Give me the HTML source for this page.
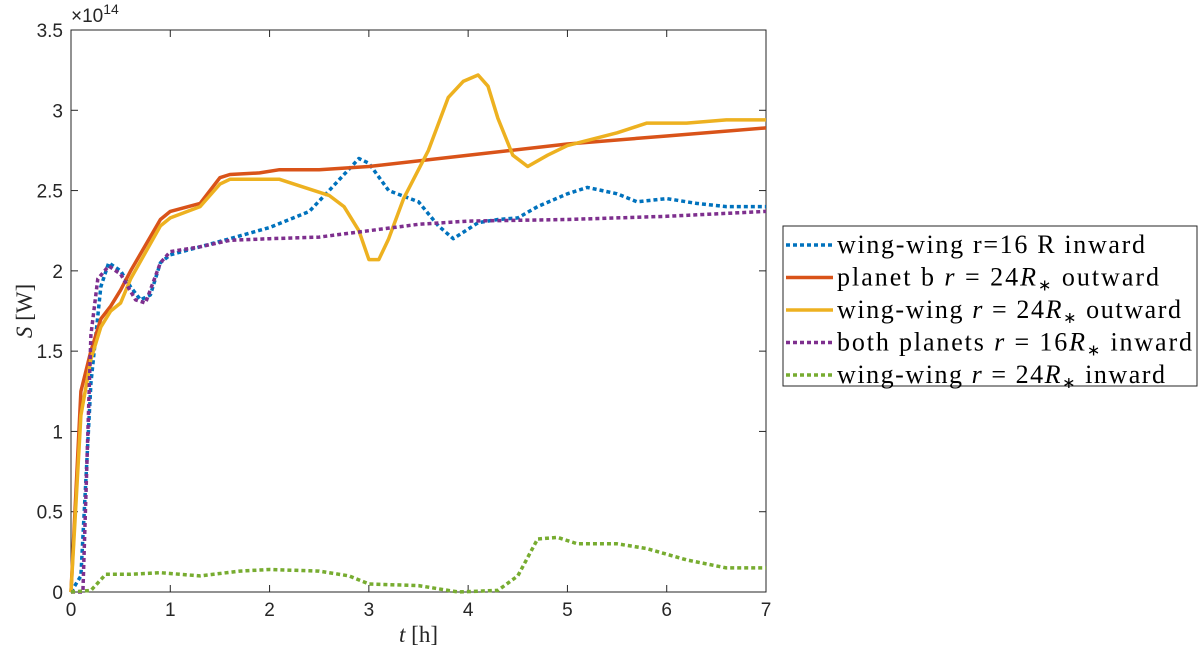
<!DOCTYPE html>
<html><head><meta charset="utf-8"><style>
body{margin:0;background:#fff;}
svg{display:block;font-family:"Liberation Serif",serif;}
</style></head><body>
<svg id="chart" width="1200" height="656">
<g id="plot"></g>
</svg>
<script>
const series1T=[0,0.1,0.2,0.3,0.38,0.5,0.6,0.7,0.8,0.9,1.0,1.3,1.6,2,2.4,2.6,2.9,3.0,3.2,3.5,3.7,3.85,4.1,4.3,4.5,4.7,5.0,5.2,5.5,5.7,6.0,6.3,6.6,7];
const series1V=[0,0.1,1.3,1.9,2.05,2.0,1.9,1.82,1.85,2.05,2.1,2.15,2.2,2.27,2.37,2.5,2.7,2.67,2.5,2.43,2.28,2.2,2.3,2.32,2.33,2.4,2.48,2.52,2.48,2.43,2.45,2.42,2.4,2.4];
const series2T=[0,0.1,0.2,0.3,0.4,0.5,0.6,0.9,1.0,1.3,1.5,1.6,1.9,2.1,2.5,3,4,5,6,7];
const series2V=[0,1.25,1.5,1.7,1.78,1.88,2.0,2.32,2.37,2.42,2.58,2.6,2.61,2.63,2.63,2.65,2.72,2.79,2.84,2.89];
const series3T=[0,0.1,0.2,0.3,0.4,0.5,0.6,0.9,1.0,1.3,1.5,1.6,1.9,2.1,2.3,2.6,2.75,2.9,3.0,3.1,3.2,3.35,3.6,3.8,3.95,4.1,4.2,4.3,4.45,4.6,4.8,5,5.5,5.8,6.2,6.6,7];
const series3V=[0,1.1,1.45,1.65,1.75,1.8,1.95,2.28,2.33,2.4,2.54,2.57,2.57,2.57,2.53,2.47,2.4,2.25,2.07,2.07,2.2,2.45,2.75,3.08,3.18,3.22,3.15,2.95,2.72,2.65,2.72,2.78,2.86,2.92,2.92,2.94,2.94];
const series4T=[0,0.12,0.2,0.27,0.38,0.5,0.65,0.75,0.9,1.0,1.3,1.6,2,2.5,3,3.5,4,5,6,7];
const series4V=[0,0,1.6,1.95,2.03,1.98,1.82,1.8,2.05,2.12,2.15,2.19,2.2,2.21,2.25,2.29,2.31,2.32,2.34,2.37];
const series5T=[0,0.2,0.35,0.6,0.9,1.3,1.7,2.0,2.5,2.8,3.0,3.5,3.9,4.3,4.5,4.7,4.9,5.1,5.5,5.8,6.2,6.6,7];
const series5V=[0,0.01,0.11,0.11,0.12,0.1,0.13,0.14,0.13,0.1,0.05,0.04,0.0,0.01,0.1,0.33,0.34,0.3,0.3,0.27,0.2,0.15,0.15];
const xTicks=[0,1,2,3,4,5,6,7];
const yTicks=[0,0.5,1,1.5,2,2.5,3,3.5];
const yLabels=["0","0.5","1","1.5","2","2.5","3","3.5"];

const L=71,R=766,T=30,B=592;
const X=t=>L+t/7*(R-L);
const Y=v=>B-v/3.5*(B-T);
const NS="http://www.w3.org/2000/svg";
const g=document.getElementById('plot');
function el(tag,attrs,parent){const e=document.createElementNS(NS,tag);for(const k in attrs)e.setAttribute(k,attrs[k]);(parent||g).appendChild(e);return e;}

const bg=el('rect',{x:L,y:T,width:R-L,height:B-T,fill:'#fff',stroke:'#262626','stroke-width':1});



xTicks.forEach(t=>{
  const tk=el('line',{x1:X(t),x2:X(t),y1:B,y2:B-7,stroke:'#262626'});
  
  
  const tk2=el('line',{x1:X(t),x2:X(t),y1:T,y2:T+7,stroke:'#262626'});
  
  
  const lb=el('text',{x:X(t),y:B+24,'text-anchor':'middle','font-size':19,'font-family':'Liberation Sans, sans-serif',fill:'#262626'});
  lb.textContent=t;
  
  
});
yTicks.forEach((v,i)=>{
  const tk=el('line',{x1:L,x2:L+7,y1:Y(v),y2:Y(v),stroke:'#262626'});
  
  
  const tk2=el('line',{x1:R,x2:R-7,y1:Y(v),y2:Y(v),stroke:'#262626'});
  
  
  const lb=el('text',{x:L-8,y:Y(v)+7,'text-anchor':'end','font-size':19,'font-family':'Liberation Sans, sans-serif',fill:'#262626'});
  lb.textContent=yLabels[i];
  
  
});
const ex=el('text',{x:L,y:T-8,'font-size':19,'font-family':'Liberation Sans, sans-serif',fill:'#262626'});
ex.innerHTML="×10<tspan font-size='14' dy='-8'>14</tspan>";



const xt=el('text',{x:(L+R)/2,y:642,'text-anchor':'middle','font-size':23,fill:'#262626'});
xt.innerHTML="<tspan font-style='italic'>t</tspan> [h]";


const yt=el('text',{x:0,y:0,'text-anchor':'middle','font-size':23,fill:'#262626',transform:'translate(32,311) rotate(-90)'});
yt.innerHTML="<tspan font-style='italic'>S</tspan> [W]";



const defs=[
 [series1T,series1V,'#0072BD',true,'series-wing-wing-16-inward'],
 [series2T,series2V,'#D95319',false,'series-planet-b-24-outward'],
 [series3T,series3V,'#EDB120',false,'series-wing-wing-24-outward'],
 [series4T,series4V,'#7E2F8E',true,'series-both-planets-16-inward'],
 [series5T,series5V,'#77AC30',true,'series-wing-wing-24-inward']
];
defs.forEach(d=>{
  const pts=d[0].map((t,i)=>X(t).toFixed(1)+','+Y(d[1][i]).toFixed(1)).join(' ');
  const a={points:pts,fill:'none',stroke:d[2],'stroke-width':3.5,'stroke-linejoin':'round'};
  if(d[3])a['stroke-dasharray']='4 3';
  const p=el('polyline',a);
  
  
});

const lg=el('g',{});


el('rect',{x:783,y:226,width:414,height:160,fill:'#fff',stroke:'#262626'},lg);
const labels=[
 "wing-wing r=16 R inward",
 "planet b <tspan font-style='italic'>r</tspan> = 24<tspan font-style='italic'>R</tspan><tspan font-size='16' dy='5'>∗</tspan><tspan dy='-5'> outward</tspan>",
 "wing-wing <tspan font-style='italic'>r</tspan> = 24<tspan font-style='italic'>R</tspan><tspan font-size='16' dy='5'>∗</tspan><tspan dy='-5'> outward</tspan>",
 "both planets <tspan font-style='italic'>r</tspan> = 16<tspan font-style='italic'>R</tspan><tspan font-size='16' dy='5'>∗</tspan><tspan dy='-5'> inward</tspan>",
 "wing-wing <tspan font-style='italic'>r</tspan> = 24<tspan font-style='italic'>R</tspan><tspan font-size='16' dy='5'>∗</tspan><tspan dy='-5'> inward</tspan>"
];
const widths=[308,322,344,355,328];
defs.forEach((d,i)=>{
  const y=245+i*32.5;
  const a={x1:786,x2:833,y1:y,y2:y,stroke:d[2],'stroke-width':3.5};
  if(d[3])a['stroke-dasharray']='4 3';
  const ln=el('line',a,lg);
  
  
  const tx=el('text',{x:837,y:y+8,'font-size':26,fill:'#000',textLength:widths[i],lengthAdjust:'spacing'},lg);
  tx.innerHTML=labels[i];
  
  
});
</script>
</body></html>
